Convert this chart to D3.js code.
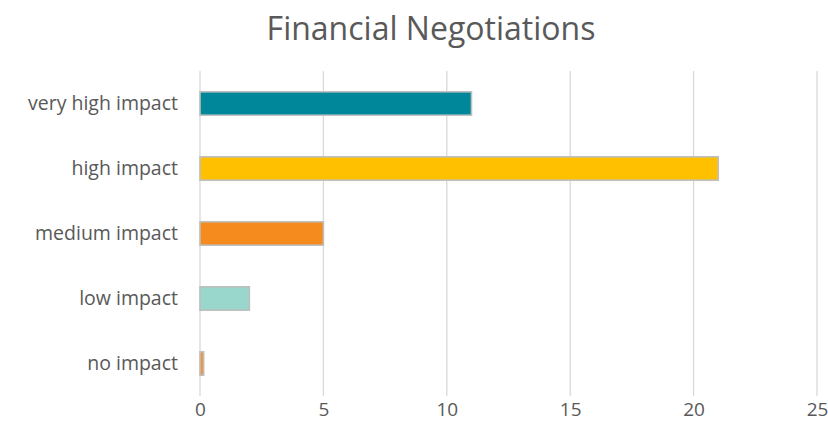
<!DOCTYPE html>
<html>
<head>
<meta charset="utf-8">
<script src="https://cdn.jsdelivr.net/npm/d3@7"></script>
<style>
  body { margin: 0; background: #fff; }
  svg { display: block; }
  svg text { font-family: "Open Sans", sans-serif; fill: #595959; }
</style>
</head>
<body>
<svg id="chart" width="828" height="438"></svg>
<script>
"use strict";

var title = 'Financial Negotiations';
var categories = ['very high impact', 'high impact', 'medium impact', 'low impact', 'no impact'];
var values = [11, 21, 5, 2, 0.15];
var colors = ['#00889a', '#ffc000', '#f58a1f', '#99d6cc', '#f0953a'];
var tickValues = [0, 5, 10, 15, 20, 25];

function make_chart(svg) {
  var margin = { top: 71, right: 11, bottom: 42, left: 200 };
  var width = +svg.attr('width') - margin.left - margin.right;
  var height = +svg.attr('height') - margin.top - margin.bottom;

  var plot = svg.append('g')
    .attr('transform', 'translate(' + margin.left + ',' + margin.top + ')');

  var _x = d3.scaleLinear().domain([0, 25]).range([0, width]);
  var _y = d3.scaleBand().domain(categories).range([0, height])
    .paddingInner(0.64).paddingOuter(0.32);

  // vertical gridlines
  plot.append('g')
    .selectAll('line')
    .data(tickValues)
    .enter().append('line')
    .attr('x1', d => _x(d)).attr('x2', d => _x(d))
    .attr('y1', 0).attr('y2', height)
    .attr('stroke', '#d9d9d9')
    .attr('stroke-width', 1.3);

  var data = categories.map((c, i) => ({ cat: c, val: values[i], color: colors[i] }));

  plot.selectAll('rect.bar')
    .data(data)
    .enter().append('rect')
    .attr('class', 'bar')
    .attr('x', _x(0))
    .attr('y', d => _y(d.cat))
    .attr('width', d => _x(d.val) - _x(0))
    .attr('height', _y.bandwidth())
    .attr('fill', d => d.color)
    .attr('stroke', '#bfbfbf')
    .attr('stroke-width', 1.6);

  var xaxis = d3.axisBottom(_x).tickValues(tickValues).tickSize(0).tickPadding(6);
  var gx = plot.append('g')
    .attr('transform', 'translate(0,' + height + ')')
    .call(xaxis);
  gx.select('.domain').remove();
  gx.selectAll('text').attr('font-size', 19);

  var yaxis = d3.axisLeft(_y).tickSize(0).tickPadding(22);
  var gy = plot.append('g').call(yaxis);
  gy.select('.domain').remove();
  gy.selectAll('text').attr('font-size', 19.5);

  svg.append('text')
    .attr('x', 431)
    .attr('y', 40)
    .attr('text-anchor', 'middle')
    .attr('font-size', 32)
    .text(title);
}

make_chart(d3.select('#chart'));
</script>
</body>
</html>
